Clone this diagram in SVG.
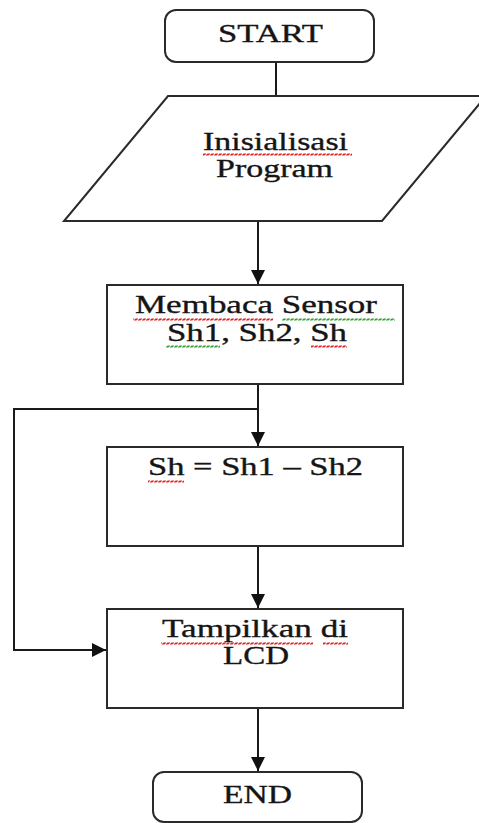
<svg xmlns="http://www.w3.org/2000/svg" width="479" height="823" viewBox="0 0 479 823">
<style>
.box{fill:#fff;stroke:#2a2a2a;stroke-width:2}
.ln{fill:none;stroke:#1a1a1a;stroke-width:2}
.t{font-family:"Liberation Serif","Times New Roman",serif;font-size:26px;fill:#151515;stroke:#151515;stroke-width:0.35;text-anchor:start}
</style>
<defs>
<marker id="ah" markerUnits="userSpaceOnUse" markerWidth="16" markerHeight="14" refX="14" refY="7" orient="auto">
<path d="M0,0 L14,7 L0,14 Z" fill="#111"/>
</marker>
<pattern id="wr" width="4" height="3" patternUnits="userSpaceOnUse">
<path d="M0,2.6 L1,0.4 L3,2.6 L4,0.4" fill="none" stroke="#e02020" stroke-width="1"/>
</pattern>
<pattern id="wg" width="4" height="3" patternUnits="userSpaceOnUse">
<path d="M0,2.6 L1,0.4 L3,2.6 L4,0.4" fill="none" stroke="#30a030" stroke-width="1"/>
</pattern>
</defs>
<g id="connectors">
<line class="ln" x1="276" y1="62" x2="276" y2="96"/>
<line class="ln" x1="258" y1="221" x2="258" y2="284" marker-end="url(#ah)"/>
<polyline class="ln" points="258,384 258,446" marker-end="url(#ah)"/>
<polyline class="ln" points="258,409 14,409 14,650 106,650" marker-end="url(#ah)"/>
<line class="ln" x1="258" y1="546" x2="258" y2="608" marker-end="url(#ah)"/>
<line class="ln" x1="258" y1="708" x2="258" y2="771" marker-end="url(#ah)"/>
</g>
<g id="start">
<rect class="box" x="165" y="10" width="209" height="52" rx="11"/>
<text class="t" x="218" y="42" textLength="105" lengthAdjust="spacingAndGlyphs">START</text>
</g>
<g id="init">
<polygon class="box" points="168,96 486,96 382,221 64,221"/>
<text class="t" x="203" y="150" textLength="145" lengthAdjust="spacingAndGlyphs">Inisialisasi</text>
<text class="t" x="216" y="177" textLength="117" lengthAdjust="spacingAndGlyphs">Program</text>
<rect x="203" y="153" width="149" height="3" fill="url(#wr)"/>
</g>
<g id="read">
<rect class="box" x="107" y="285" width="296" height="99"/>
<text class="t" x="135" y="313" textLength="242" lengthAdjust="spacingAndGlyphs">Membaca Sensor</text>
<text class="t" x="167" y="341" textLength="180" lengthAdjust="spacingAndGlyphs">Sh1, Sh2, Sh</text>
<rect x="133" y="318" width="140" height="3" fill="url(#wr)"/>
<rect x="282" y="318" width="113" height="3" fill="url(#wg)"/>
<rect x="166" y="345" width="54" height="3" fill="url(#wg)"/>
<rect x="311" y="345" width="36" height="3" fill="url(#wr)"/>
</g>
<g id="calc">
<rect class="box" x="107" y="447" width="296" height="99"/>
<text class="t" x="148" y="475" textLength="215" lengthAdjust="spacingAndGlyphs">Sh = Sh1 – Sh2</text>
<rect x="148" y="480" width="36" height="3" fill="url(#wr)"/>
</g>
<g id="display">
<rect class="box" x="107" y="609" width="296" height="99"/>
<text class="t" x="162" y="637" textLength="186" lengthAdjust="spacingAndGlyphs">Tampilkan di</text>
<text class="t" x="223" y="664" textLength="66" lengthAdjust="spacingAndGlyphs">LCD</text>
<rect x="161" y="642" width="152" height="3" fill="url(#wr)"/>
<rect x="323" y="642" width="25" height="3" fill="url(#wr)"/>
</g>
<g id="end">
<rect class="box" x="153" y="772" width="209" height="50" rx="11"/>
<text class="t" x="223" y="803" textLength="69" lengthAdjust="spacingAndGlyphs">END</text>
</g>
</svg>
